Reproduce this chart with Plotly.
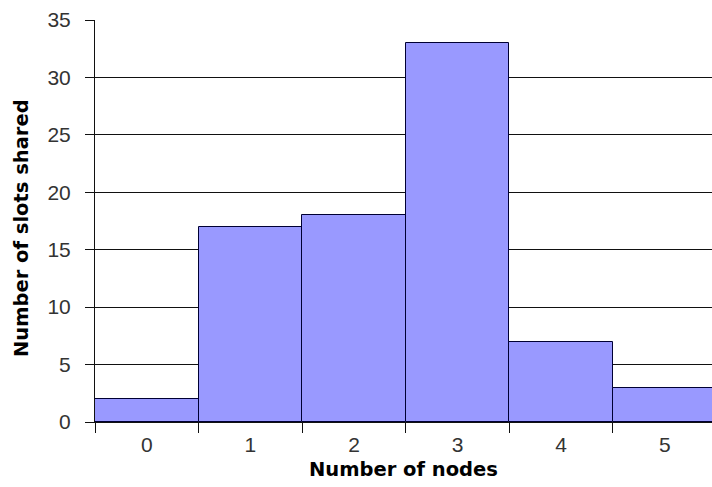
import plotly.graph_objects as go

categories = ["0", "1", "2", "3", "4", "5"]
slots_shared = [2, 17, 18, 33, 7, 3]
y_ticks = [0, 5, 10, 15, 20, 25, 30, 35]

fig = go.Figure(go.Bar(
    x=categories, y=slots_shared,
    marker=dict(color="#9999ff", line=dict(color="#000033", width=1)),
    hoverinfo="skip",
))

tick_font = dict(family="Liberation Sans, Arial, sans-serif", size=21, color="#333333")
title_font = dict(family="DejaVu Sans, Verdana, sans-serif", size=19.5, color="#000000", weight="bold")

fig.update_layout(
    width=712, height=487,
    margin=dict(l=95, r=0, t=20, b=65),
    paper_bgcolor="white", plot_bgcolor="white",
    bargap=0, showlegend=False,
    font=tick_font,
)
fig.update_xaxes(
    type="category", range=[-0.5, 5.456], tickson="boundaries",
    ticks="outside", ticklen=10, tickcolor="#111111", tickwidth=1,
    showgrid=False, showline=True, linecolor="#111111", linewidth=1,
    tickfont=tick_font, ticklabelstandoff=4,
)
fig.update_yaxes(
    range=[0, 35], tickvals=y_ticks,
    ticks="outside", ticklen=9, tickcolor="#111111", tickwidth=1,
    showgrid=True, gridcolor="#111111", gridwidth=1,
    showline=True, linecolor="#111111", linewidth=1,
    zeroline=False, tickfont=tick_font, ticklabelstandoff=10,
)
fig.add_annotation(text="Number of nodes", xref="paper", yref="paper",
                   x=(403 - 95) / 617, y=-(470 - 422) / 402, showarrow=False,
                   font=title_font, xanchor="center", yanchor="middle")
fig.add_annotation(text="Number of slots shared", xref="paper", yref="paper",
                   x=-(95 - 21) / 617, y=(422 - 228) / 402, showarrow=False, textangle=-90,
                   font=title_font, xanchor="center", yanchor="middle")

fig.write_html("out.html", config={"displayModeBar": False},
               post_script="document.body.style.margin='0';")
